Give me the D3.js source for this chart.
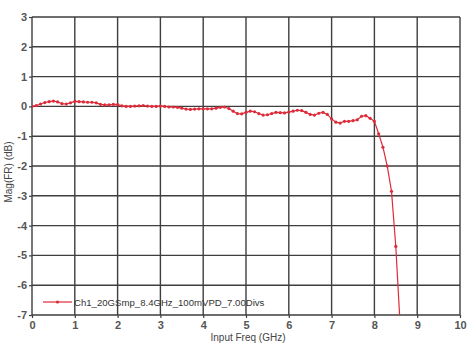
<!DOCTYPE html>
<html>
<head>
<meta charset="utf-8">
<script src="https://cdn.jsdelivr.net/npm/d3@7"></script>
<style>
  body { margin: 0; background: #fff; }
  text { font-family: "Liberation Sans", Arial, sans-serif; }
</style>
</head>
<body>
<svg id="chart"></svg>
<script>
const freqs = [
  0.0, 0.1, 0.2, 0.3, 0.4, 0.5, 0.6, 0.7, 0.8, 0.9,
  1.0, 1.1, 1.2, 1.3, 1.4, 1.5, 1.6, 1.7, 1.8, 1.9,
  2.0, 2.1, 2.2, 2.3, 2.4, 2.5, 2.6, 2.7, 2.8, 2.9,
  3.0, 3.1, 3.2, 3.3, 3.4, 3.5, 3.6, 3.7, 3.8, 3.9,
  4.0, 4.1, 4.2, 4.3, 4.4, 4.5, 4.6, 4.7, 4.8, 4.9,
  5.0, 5.1, 5.2, 5.3, 5.4, 5.5, 5.6, 5.7, 5.8, 5.9,
  6.0, 6.1, 6.2, 6.3, 6.4, 6.5, 6.6, 6.7, 6.8, 6.9,
  7.0, 7.1, 7.2, 7.3, 7.4, 7.5, 7.6, 7.7, 7.8, 7.9,
  8.0, 8.1, 8.2, 8.3, 8.4, 8.5, 8.6
];
const mag = [
  0.00, 0.03, 0.08, 0.13, 0.16, 0.18, 0.15, 0.09, 0.08, 0.12,
  0.17, 0.16, 0.15, 0.14, 0.14, 0.12, 0.07, 0.05, 0.05, 0.07,
  0.06, 0.02, 0.00, 0.00, 0.01, 0.02, 0.03, 0.01, 0.00, 0.00,
  0.01, 0.00, -0.02, -0.02, -0.03, -0.06, -0.09, -0.10, -0.09, -0.08,
  -0.08, -0.08, -0.08, -0.06, -0.03, -0.02, -0.07, -0.16, -0.24, -0.25,
  -0.20, -0.16, -0.18, -0.24, -0.29, -0.28, -0.24, -0.20, -0.21, -0.22,
  -0.19, -0.16, -0.13, -0.14, -0.20, -0.27, -0.29, -0.23, -0.20, -0.27,
  -0.42, -0.53, -0.56, -0.50, -0.50, -0.48, -0.45, -0.33, -0.31, -0.40,
  -0.50, -0.92, -1.37, -2.00, -2.85, -4.70, -7.30
];
const xTicks = [0, 1, 2, 3, 4, 5, 6, 7, 8, 9, 10];
const yTicks = [3, 2, 1, 0, -1, -2, -3, -4, -5, -6, -7];
const seriesName = "Ch1_20GSmp_8.4GHz_100mVPD_7.00Divs";

const W = 475, H = 351;
const margin = { left: 32, right: 15, top: 17, bottom: 36 };
const gridColor = "#3e3e3e";
const red = "#dd2b3a";

const svg = d3.select("#chart").attr("width", W).attr("height", H);

const x = d3.scaleLinear().domain([0, 10]).range([margin.left, W - margin.right]);
const y = d3.scaleLinear().domain([-7, 3]).range([H - margin.bottom, margin.top]);

svg.append("defs").append("clipPath").attr("id", "clip")
  .append("rect")
  .attr("x", x(0)).attr("y", y(3))
  .attr("width", x(10) - x(0)).attr("height", y(-7) - y(3));

// grid
svg.append("g").selectAll("line").data(xTicks).enter().append("line")
  .attr("x1", d => x(d)).attr("x2", d => x(d))
  .attr("y1", y(3)).attr("y2", y(-7))
  .attr("stroke", gridColor).attr("stroke-width", 1.4);
svg.append("g").selectAll("line").data(yTicks).enter().append("line")
  .attr("x1", x(0)).attr("x2", x(10))
  .attr("y1", d => y(d)).attr("y2", d => y(d))
  .attr("stroke", gridColor).attr("stroke-width", 1.4);

// axes (short outside ticks + labels)
const xAxis = svg.append("g")
  .attr("transform", `translate(0,${y(-7)})`)
  .call(d3.axisBottom(x).tickValues(xTicks).tickSize(3).tickPadding(3).tickFormat(d3.format("d")));
const yAxis = svg.append("g")
  .attr("transform", `translate(${x(0)},0)`)
  .call(d3.axisLeft(y).tickValues(yTicks).tickSize(3).tickPadding(2).tickFormat(d => d < 0 ? "-" + Math.abs(d) : d));
[xAxis, yAxis].forEach(g => {
  g.select(".domain").remove();
  g.selectAll(".tick line").attr("stroke", gridColor).attr("stroke-width", 1.2);
  g.selectAll(".tick text")
    .attr("fill", "#555").attr("font-size", 11).attr("font-weight", "bold")
    .style("font-family", "'Liberation Sans', Arial, sans-serif");
});

// axis titles
svg.append("text")
  .attr("x", (x(0) + x(10)) / 2 + 2).attr("y", 341)
  .attr("text-anchor", "middle").attr("font-size", 10).attr("fill", "#444")
  .text("Input Freq (GHz)");
svg.append("text")
  .attr("transform", `translate(12,172) rotate(-90)`)
  .attr("text-anchor", "middle").attr("font-size", 10).attr("fill", "#444")
  .text("Mag(FR) (dB)");

// series
const pts = freqs.map((f, i) => [f, mag[i]]);
const plot = svg.append("g").attr("clip-path", "url(#clip)");
plot.append("path")
  .datum(pts)
  .attr("fill", "none").attr("stroke", red).attr("stroke-width", 1.2)
  .attr("d", d3.line().x(d => x(d[0])).y(d => y(d[1])));
plot.selectAll("circle").data(pts).enter().append("circle")
  .attr("cx", d => x(d[0])).attr("cy", d => y(d[1]))
  .attr("r", 1.6).attr("fill", red);

// legend
const lg = svg.append("g");
lg.append("line").attr("x1", 43).attr("x2", 72).attr("y1", 302).attr("y2", 302)
  .attr("stroke", red).attr("stroke-width", 1.2);
lg.append("circle").attr("cx", 57.5).attr("cy", 302).attr("r", 1.6).attr("fill", red);
lg.append("text").attr("x", 74).attr("y", 305.5)
  .attr("font-size", 9.6).attr("fill", "#333")
  .text(seriesName);
</script>
</body>
</html>
